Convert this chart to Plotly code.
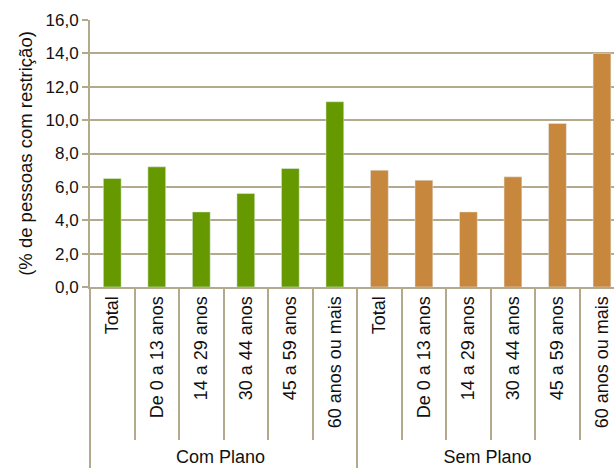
import plotly.graph_objects as go

groups = ["Com Plano", "Sem Plano"]
ages = ["Total", "De 0 a 13 anos", "14 a 29 anos", "30 a 44 anos", "45 a 59 anos", "60 anos ou mais"]
com_plano = [6.5, 7.2, 4.5, 5.6, 7.1, 11.1]
sem_plano = [7.0, 6.4, 4.5, 6.6, 9.8, 14.0]
y_ticks = [0, 2, 4, 6, 8, 10, 12, 14, 16]

GRID = "#B3A98C"
fig = go.Figure()
fig.add_bar(x=[[groups[0]] * len(ages), ages], y=com_plano, marker_color="#669900", width=0.40, showlegend=False)
fig.add_bar(x=[[groups[1]] * len(ages), ages], y=sem_plano, marker_color="#C7873C", width=0.40, showlegend=False)

fig.update_layout(
    width=614, height=473,
    margin=dict(l=90, r=0, t=20, b=186),
    plot_bgcolor="white", paper_bgcolor="white",
    separators=",.",
    barmode="group",
    font=dict(family="Liberation Sans, Arial, sans-serif", size=18, color="#111111"),
    xaxis=dict(
        type="multicategory", tickangle=-90, range=[-0.5, 11.27],
        showline=True, linecolor=GRID, linewidth=2,
        ticks="outside", ticklen=151, tickwidth=2, tickcolor=GRID,
        showdividers=True, dividercolor=GRID, dividerwidth=2,
        showgrid=False, tickfont=dict(size=18),
    ),
    yaxis=dict(
        range=[0, 16], tickvals=y_ticks, tickformat=".1f",
        showgrid=True, gridcolor=GRID, gridwidth=2,
        showline=True, linecolor=GRID, linewidth=2,
        ticks="outside", ticklen=6, tickwidth=2, tickcolor=GRID,
        tickfont=dict(size=17),
        title=dict(text="(% de pessoas com restrição)", standoff=8, font=dict(size=18.5)),
        zeroline=False,
    ),
)
fig.write_html("out.html")
